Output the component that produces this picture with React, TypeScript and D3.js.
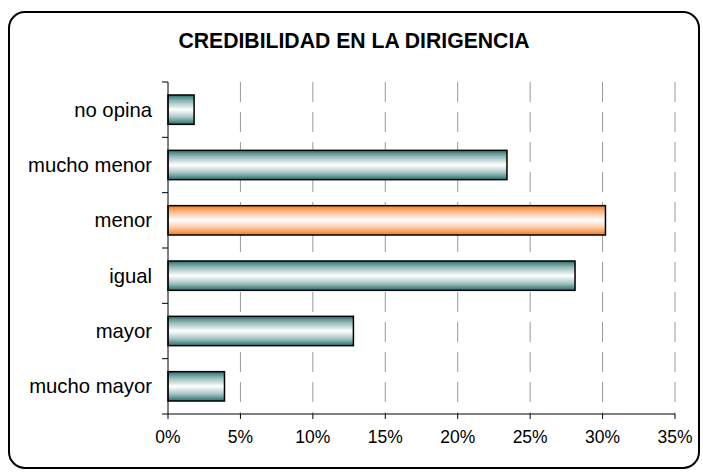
import React from 'react';
import * as d3 from 'd3';

// categories top to bottom
const categories = ['no opina', 'mucho menor', 'menor', 'igual', 'mayor', 'mucho mayor'];
const values = [1.8, 23.4, 30.2, 28.1, 12.8, 3.9];
const highlight = 'menor';
const xTicks = [0, 5, 10, 15, 20, 25, 30, 35];

const W = 703;
const H = 472;
const M = { top: 82, right: 28, bottom: 58, left: 168 };

export default function App() {
  const x = d3.scaleLinear().domain([0, 35]).range([M.left, W - M.right]);
  const y = d3.scaleBand().domain(categories).range([M.top, H - M.bottom]).paddingInner(0.47).paddingOuter(0.235);
  const step = y.step();
  const y0 = M.top;
  const y1 = H - M.bottom;
  const bounds = d3.range(categories.length + 1).map(i => y0 + i * step);

  return (
    <svg width={W} height={H} style={{ position: 'absolute', left: 0, top: 0, fontFamily: 'Liberation Sans, Arial, sans-serif' }}>
      <defs>
        <linearGradient id="teal" x1="0" y1="0" x2="0" y2="1">
          <stop offset="0" stopColor="#286e6c" />
          <stop offset="0.2" stopColor="#8fb6b5" />
          <stop offset="0.5" stopColor="#ffffff" />
          <stop offset="0.75" stopColor="#aac8c7" />
          <stop offset="1" stopColor="#286e6c" />
        </linearGradient>
        <linearGradient id="orange" x1="0" y1="0" x2="0" y2="1">
          <stop offset="0" stopColor="#f47a22" />
          <stop offset="0.2" stopColor="#f9b98a" />
          <stop offset="0.5" stopColor="#ffffff" />
          <stop offset="0.75" stopColor="#fbc9a2" />
          <stop offset="1" stopColor="#f47a22" />
        </linearGradient>
      </defs>
      <rect x={9} y={12} width={690} height={456} rx={16} ry={16} fill="#fff" stroke="#000" strokeWidth={2} />
      <text x={354} y={48} textAnchor="middle" fontSize={21.2} fontWeight="bold">CREDIBILIDAD EN LA DIRIGENCIA</text>

      {/* grid */}
      {xTicks.slice(1).map(t => (
        <line key={'g' + t} x1={x(t)} x2={x(t)} y1={y0} y2={y1} stroke="#999" strokeWidth={1} strokeDasharray="20,10" />
      ))}

      {/* bars */}
      {categories.map((c, i) => (
        <rect key={c} x={x(0)} y={y(c)} width={x(values[i]) - x(0)} height={y.bandwidth()}
          fill={c === highlight ? 'url(#orange)' : 'url(#teal)'} stroke="#000" strokeWidth={1.5} />
      ))}

      {/* y axis */}
      <line x1={x(0)} x2={x(0)} y1={y0} y2={y1} stroke="#000" strokeWidth={1} />
      {bounds.map((b, i) => (
        <line key={'yt' + i} x1={x(0) - 6} x2={x(0)} y1={b} y2={b} stroke="#000" strokeWidth={1} />
      ))}
      {categories.map(c => (
        <text key={'l' + c} x={152} y={y(c)! + y.bandwidth() / 2} dy="0.35em" textAnchor="end" fontSize={20.3}>{c}</text>
      ))}

      {/* x axis */}
      <line x1={x(0)} x2={x(35)} y1={y1} y2={y1} stroke="#000" strokeWidth={1} />
      {xTicks.map(t => (
        <g key={'xt' + t}>
          <line x1={x(t)} x2={x(t)} y1={y1} y2={y1 + 5} stroke="#000" strokeWidth={1} />
          <text x={x(t)} y={y1 + 29} textAnchor="middle" fontSize={17.5}>{t}%</text>
        </g>
      ))}
    </svg>
  );
}
